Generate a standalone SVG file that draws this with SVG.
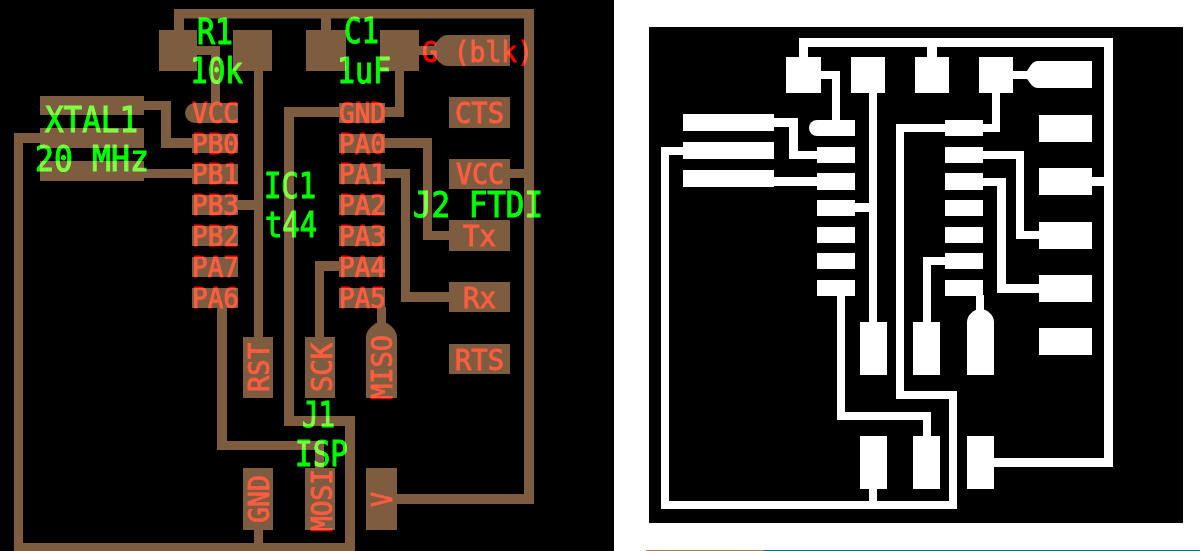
<svg xmlns="http://www.w3.org/2000/svg" width="1200" height="551" viewBox="0 0 1200 551">
<style>
.cu{fill:#7e5c3f}
.wt{fill:#fff}
.r,.g{font-family:"DejaVu Sans Mono","Liberation Mono",monospace;mix-blend-mode:screen}
.r{fill:#f00;stroke:#f00;stroke-width:.9;font-size:28px}
.g{fill:#0f0;stroke:#0f0;stroke-width:1.1;font-size:35px}
</style>
<rect width="1200" height="551" fill="#fff"/>
<rect width="614" height="551" fill="#000"/>
<rect x="649" y="27" width="534" height="496" fill="#000"/>
<rect x="646" y="550" width="117" height="1" fill="#a9805a"/>
<rect x="763" y="550" width="437" height="1" fill="#0f6a80"/>

<g id="connectors-layout" class="cu">
<rect x="174" y="9" width="360" height="9.500"/><rect x="174" y="9" width="10" height="22"/>
<rect x="321" y="9" width="10" height="22"/><rect x="524" y="9" width="10" height="495"/>
<rect x="396" y="494" width="138" height="10"/><rect x="510" y="169" width="15" height="9"/>
<path d="M196 46H220V104H211V55H196Z"/>
<rect x="254" y="70" width="9" height="268"/><rect x="238" y="200" width="17" height="10"/>
<path d="M144 101H171V138H192V148H161V110H144Z"/><rect x="144" y="169" width="48" height="9"/>
<path d="M40 133V143H23V551H14V133Z"/><rect x="14" y="543" width="341" height="8"/>
<rect x="345" y="416" width="10" height="135"/><rect x="284" y="416" width="71" height="10"/>
<rect x="284" y="107" width="10" height="319"/><rect x="284" y="107" width="120" height="10"/>
<rect x="395" y="70" width="9" height="47"/><rect x="418" y="46" width="24" height="9"/>
<path d="M384 138H432V231H449V240H423V148H384Z"/>
<path d="M384 169H410V292H449V302H401V178H384Z"/>
<rect x="377" y="307" width="9" height="20"/>
<path d="M315 338V261H340V271H324V338Z"/>
<path d="M217 307H227V441H324V469H315V450H217Z"/>
<rect x="254" y="529" width="9" height="15"/>
</g>
<g id="R1-layout" class="cu"><rect x="159" y="30" width="38" height="41"/><rect x="233" y="30" width="39" height="41"/></g>
<g id="C1-layout" class="cu"><rect x="306" y="30" width="40" height="41"/><rect x="380" y="30" width="39" height="41"/></g>
<g id="XTAL1-layout" class="cu"><rect x="40" y="96" width="104" height="19"/><rect x="40" y="128" width="104" height="20"/><rect x="40" y="161" width="104" height="20"/></g>
<g id="IC1-layout" class="cu">
<path d="M238 103V123H195A10 10 0 0 1 195 103Z"/>
<rect x="192" y="134" width="46" height="19"/><rect x="192" y="164" width="46" height="20"/><rect x="192" y="195" width="46" height="20"/><rect x="192" y="226" width="46" height="20"/><rect x="192" y="257" width="46" height="20"/><rect x="192" y="288" width="46" height="20"/>
<rect x="339" y="103" width="46" height="20"/><rect x="339" y="134" width="46" height="19"/><rect x="339" y="164" width="46" height="20"/><rect x="339" y="195" width="46" height="20"/><rect x="339" y="226" width="46" height="20"/><rect x="339" y="257" width="46" height="20"/><rect x="339" y="288" width="46" height="20"/>
</g>
<g id="J2-layout" class="cu">
<path d="M510 35V66H448C440 66 436 58 434 55V46C436 43 440 35 448 35Z"/>
<rect x="449" y="97" width="61" height="31"/><rect x="449" y="159" width="61" height="30"/><rect x="449" y="220" width="61" height="31"/><rect x="449" y="282" width="61" height="30"/><rect x="449" y="344" width="61" height="30"/>
</g>
<g id="J1-layout" class="cu">
<rect x="243" y="337" width="30" height="61"/><rect x="305" y="337" width="30" height="61"/>
<path d="M366 398V337C366 330 374 322 381.500 322C389 322 397 330 397 337V398Z"/>
<rect x="243" y="468" width="30" height="62"/><rect x="305" y="468" width="30" height="62"/><rect x="366" y="468" width="31" height="62"/>
</g>

<g id="pad-labels">
<text class="r" x="192" y="122.500" textLength="47" lengthAdjust="spacingAndGlyphs">VCC</text>
<text class="r" x="192" y="153.500" textLength="47" lengthAdjust="spacingAndGlyphs">PB0</text>
<text class="r" x="192" y="184" textLength="47" lengthAdjust="spacingAndGlyphs">PB1</text>
<text class="r" x="192" y="215" textLength="47" lengthAdjust="spacingAndGlyphs">PB3</text>
<text class="r" x="192" y="246" textLength="47" lengthAdjust="spacingAndGlyphs">PB2</text>
<text class="r" x="192" y="277" textLength="47" lengthAdjust="spacingAndGlyphs">PA7</text>
<text class="r" x="192" y="308" textLength="47" lengthAdjust="spacingAndGlyphs">PA6</text>
<text class="r" x="339" y="122.500" textLength="47" lengthAdjust="spacingAndGlyphs">GND</text>
<text class="r" x="339" y="153.500" textLength="47" lengthAdjust="spacingAndGlyphs">PA0</text>
<text class="r" x="339" y="184" textLength="47" lengthAdjust="spacingAndGlyphs">PA1</text>
<text class="r" x="339" y="215" textLength="47" lengthAdjust="spacingAndGlyphs">PA2</text>
<text class="r" x="339" y="246" textLength="47" lengthAdjust="spacingAndGlyphs">PA3</text>
<text class="r" x="339" y="277" textLength="47" lengthAdjust="spacingAndGlyphs">PA4</text>
<text class="r" x="339" y="308" textLength="47" lengthAdjust="spacingAndGlyphs">PA5</text>
<text class="r" x="422" y="61.500" textLength="111" lengthAdjust="spacingAndGlyphs">G (blk)</text>
<text class="r" x="455" y="122.500" textLength="49" lengthAdjust="spacingAndGlyphs">CTS</text>
<text class="r" x="456" y="184" textLength="48" lengthAdjust="spacingAndGlyphs">VCC</text>
<text class="r" x="463" y="246" textLength="33" lengthAdjust="spacingAndGlyphs">Tx</text>
<text class="r" x="463" y="308" textLength="33" lengthAdjust="spacingAndGlyphs">Rx</text>
<text class="r" x="455" y="370" textLength="49" lengthAdjust="spacingAndGlyphs">RTS</text>
<text class="r" transform="translate(269 392) rotate(-90)" textLength="49" lengthAdjust="spacingAndGlyphs">RST</text>
<text class="r" transform="translate(332 392) rotate(-90)" textLength="49" lengthAdjust="spacingAndGlyphs">SCK</text>
<text class="r" transform="translate(392 400) rotate(-90)" textLength="65" lengthAdjust="spacingAndGlyphs">MISO</text>
<text class="r" transform="translate(269 523) rotate(-90)" textLength="48" lengthAdjust="spacingAndGlyphs">GND</text>
<text class="r" transform="translate(332 532) rotate(-90)" textLength="63" lengthAdjust="spacingAndGlyphs">MOSI</text>
<text class="r" transform="translate(392 507) rotate(-90)" textLength="15" lengthAdjust="spacingAndGlyphs">V</text>
</g>
<g id="part-labels">
<text class="g" x="197" y="44" textLength="36" lengthAdjust="spacingAndGlyphs">R1</text>
<text class="g" x="190" y="83" textLength="53" lengthAdjust="spacingAndGlyphs">10k</text>
<text class="g" x="344" y="43" textLength="35" lengthAdjust="spacingAndGlyphs">C1</text>
<text class="g" x="337" y="83" textLength="54" lengthAdjust="spacingAndGlyphs">1uF</text>
<text class="g" x="45" y="132" textLength="93" lengthAdjust="spacingAndGlyphs">XTAL1</text>
<text class="g" x="35" y="171" textLength="114" lengthAdjust="spacingAndGlyphs">20 MHz</text>
<text class="g" x="264" y="198" textLength="52" lengthAdjust="spacingAndGlyphs">IC1</text>
<text class="g" x="265" y="237" textLength="52" lengthAdjust="spacingAndGlyphs">t44</text>
<text class="g" x="413" y="217" textLength="130" lengthAdjust="spacingAndGlyphs">J2 FTDI</text>
<text class="g" x="302" y="427" textLength="33" lengthAdjust="spacingAndGlyphs">J1</text>
<text class="g" x="295" y="466" textLength="53" lengthAdjust="spacingAndGlyphs">ISP</text>
</g>

<g id="connectors-traces" class="wt">
<rect x="799" y="38" width="314" height="9"/><rect x="799" y="38" width="9" height="20"/>
<rect x="927" y="38" width="10" height="20"/><rect x="1104" y="38" width="9" height="429"/>
<rect x="994" y="458" width="119" height="9"/><rect x="1092" y="177" width="13" height="9"/>
<path d="M820 71H840V121H832V79H820Z"/>
<rect x="869" y="92" width="8" height="231"/><rect x="854" y="203" width="16" height="9"/>
<path d="M774 118H798V151H818V159H789V127H774Z"/><rect x="774" y="177" width="44" height="9"/>
<rect x="661" y="147" width="23" height="8"/><rect x="661" y="147" width="8" height="362"/>
<rect x="661" y="501" width="296" height="8"/><rect x="949" y="391" width="8" height="118"/>
<rect x="896" y="391" width="61" height="8"/><rect x="896" y="124" width="8" height="275"/>
<rect x="896" y="124" width="50" height="8"/>
<rect x="982" y="124" width="18" height="8"/><rect x="992" y="92" width="8" height="40"/>
<rect x="1012" y="71" width="18" height="8"/>
<path d="M982 151H1024V231H1040V239H1016V159H982Z"/>
<path d="M982 178H1006V284H1040V293H997V186H982Z"/>
<rect x="976" y="295" width="8" height="16"/>
<path d="M923 323V257H946V265H931V323Z"/>
<path d="M837 295H845V412H931V437H923V420H837Z"/>
<rect x="869" y="488" width="8" height="14"/>
</g>
<g id="R1-traces" class="wt"><rect x="786" y="57" width="35" height="36"/><rect x="851" y="57" width="34" height="36"/></g>
<g id="C1-traces" class="wt"><rect x="915" y="57" width="34" height="36"/><rect x="979" y="57" width="34" height="36"/></g>
<g id="XTAL1-traces" class="wt"><rect x="683" y="114" width="91" height="17"/><rect x="683" y="142" width="91" height="17"/><rect x="683" y="170" width="91" height="17"/></g>
<g id="IC1-traces" class="wt">
<path d="M855 120V136H817A8 8 0 0 1 817 120Z"/>
<rect x="817" y="147" width="38" height="16"/><rect x="817" y="173" width="38" height="17"/><rect x="817" y="200" width="38" height="16"/><rect x="817" y="227" width="38" height="16"/><rect x="817" y="253" width="38" height="16"/><rect x="817" y="280" width="38" height="16"/>
<rect x="945" y="120" width="38" height="16"/><rect x="945" y="147" width="38" height="16"/><rect x="945" y="173" width="38" height="17"/><rect x="945" y="200" width="38" height="16"/><rect x="945" y="227" width="38" height="16"/><rect x="945" y="253" width="38" height="16"/><rect x="945" y="280" width="38" height="16"/>
</g>
<g id="J2-traces" class="wt">
<path d="M1092 61V88H1038C1032 88 1030 82 1027 79V71C1030 67 1032 61 1038 61Z"/>
<rect x="1039" y="115" width="53" height="27"/><rect x="1039" y="168" width="53" height="27"/><rect x="1039" y="222" width="53" height="27"/><rect x="1039" y="275" width="53" height="27"/><rect x="1039" y="328" width="53" height="27"/>
</g>
<g id="J1-traces" class="wt">
<rect x="860" y="322" width="27" height="53"/><rect x="913" y="322" width="27" height="53"/>
<path d="M967 375V322C967 315 974 309 980.500 309C987 309 994 315 994 322V375Z"/>
<rect x="860" y="436" width="27" height="53"/><rect x="913" y="436" width="27" height="53"/><rect x="967" y="436" width="27" height="53"/>
</g>
</svg>
